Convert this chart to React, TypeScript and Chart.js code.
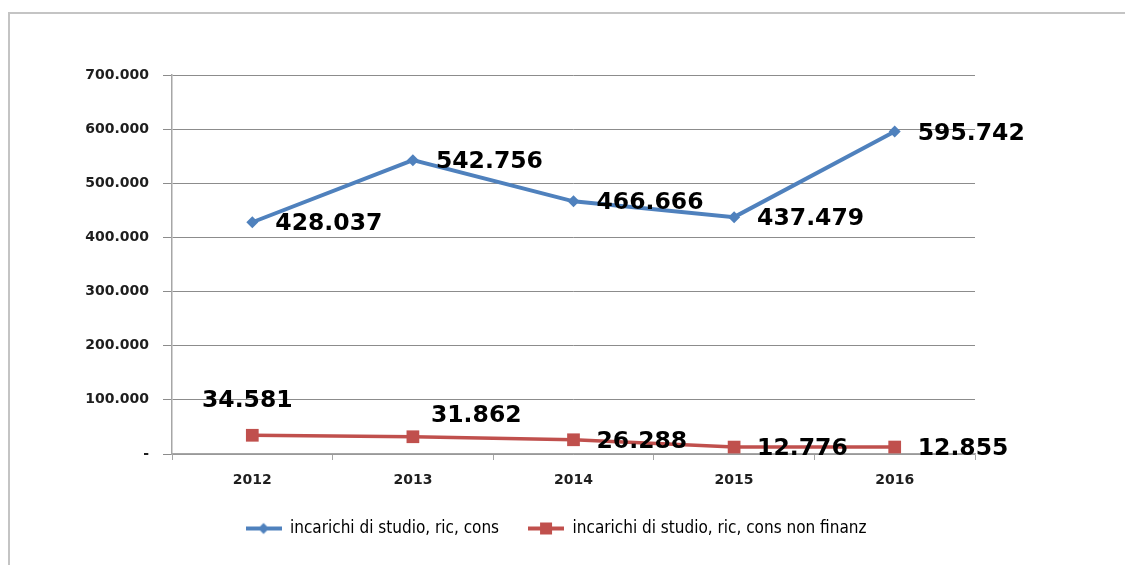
import React, { useEffect, useRef } from "react";
import { Chart, registerables } from "chart.js";

Chart.register(...registerables);

const years = ["2012", "2013", "2014", "2015", "2016"];
const seriesBlueName = "incarichi di studio, ric, cons";
const seriesRedName = "incarichi di studio, ric, cons non finanz";
const seriesBlue = [428037, 542756, 466666, 437479, 595742];
const seriesRed = [34581, 31862, 26288, 12776, 12855];
const yTicks = [0, 100000, 200000, 300000, 400000, 500000, 600000, 700000];

// label placement keywords per point
const bluePlacement = ["right", "right", "right", "right", "right"];
const redPlacement = ["above", "upRight", "right", "right", "right"];

const BLUE = "#4F81BD";
const RED = "#C0504D";

function fmt(n: number): string {
  if (n === 0) return "-";
  return String(Math.round(n)).replace(/\B(?=(\d{3})+(?!\d))/g, ".");
}

function makeLegendIcon(color: string, shape: "diamond" | "square"): HTMLCanvasElement {
  const c = document.createElement("canvas");
  c.width = 36;
  c.height = 14;
  const ctx = c.getContext("2d")!;
  ctx.strokeStyle = color;
  ctx.lineWidth = 4;
  ctx.beginPath();
  ctx.moveTo(0, 7);
  ctx.lineTo(36, 7);
  ctx.stroke();
  ctx.fillStyle = color;
  if (shape === "diamond") {
    ctx.beginPath();
    ctx.moveTo(18, 1.5);
    ctx.lineTo(23.5, 7);
    ctx.lineTo(18, 12.5);
    ctx.lineTo(12.5, 7);
    ctx.closePath();
    ctx.fill();
  } else {
    ctx.fillRect(12, 1, 12, 12);
  }
  return c;
}

const dataLabelPlugin = {
  id: "dataLabels",
  afterDatasetsDraw(chart: any) {
    const ctx = chart.ctx;
    ctx.save();
    ctx.font = "bold 23.5px 'DejaVu Sans', Verdana, sans-serif";
    ctx.fillStyle = "#000000";
    chart.data.datasets.forEach((ds: any, di: number) => {
      const meta = chart.getDatasetMeta(di);
      const placement: string[] = ds.labelPlacement || [];
      meta.data.forEach((pt: any, i: number) => {
        const text = fmt(ds.data[i]);
        const p = placement[i] || "right";
        ctx.textBaseline = "middle";
        if (p === "above") {
          ctx.textAlign = "center";
          ctx.fillText(text, pt.x - 5, pt.y - 34);
        } else if (p === "upRight") {
          ctx.textAlign = "left";
          ctx.fillText(text, pt.x + 18, pt.y - 21);
        } else {
          ctx.textAlign = "left";
          ctx.fillText(text, pt.x + 23, pt.y + 2);
        }
      });
    });
    ctx.restore();
  },
};

export default function App() {
  const ref = useRef<HTMLCanvasElement | null>(null);

  useEffect(() => {
    document.body.style.overflow = "hidden";
    if (!ref.current) return;
    const blueIcon = makeLegendIcon(BLUE, "diamond");
    const redIcon = makeLegendIcon(RED, "square");
    const chart = new Chart(ref.current, {
      type: "line",
      data: {
        labels: years,
        datasets: [
          {
            label: seriesBlueName,
            data: seriesBlue,
            borderColor: BLUE,
            backgroundColor: BLUE,
            borderWidth: 4,
            pointStyle: "rectRot",
            pointRadius: 6,
            pointBorderWidth: 0,
            tension: 0,
            labelPlacement: bluePlacement,
          } as any,
          {
            label: seriesRedName,
            data: seriesRed,
            borderColor: RED,
            backgroundColor: RED,
            borderWidth: 3.5,
            pointStyle: "rect",
            pointRadius: 9,
            pointBorderWidth: 0,
            tension: 0,
            labelPlacement: redPlacement,
          } as any,
        ],
      },
      options: {
        responsive: false,
        animation: false,
        layout: { padding: { left: 0, right: 31, top: 61, bottom: 18 } },
        scales: {
          x: {
            type: "category",
            offset: true,
            grid: {
              offset: true,
              drawOnChartArea: false,
              drawTicks: true,
              tickLength: 6,
              color: "#a6a6a6",
            },
            border: { color: "#a6a6a6", width: 1.5 },
            ticks: {
              padding: 12,
              color: "#1e1e1e",
              font: { family: "'DejaVu Sans', Verdana, sans-serif", size: 14, weight: "bold" },
              maxRotation: 0,
            },
            afterFit: (s: any) => {
              s.height = 37;
            },
          },
          y: {
            min: 0,
            max: 700000,
            afterBuildTicks: (s: any) => {
              s.ticks = yTicks.map((v) => ({ value: v }));
            },
            grid: {
              color: "#8c8c8c",
              tickLength: 9,
              drawTicks: true,
            },
            border: { color: "#a6a6a6", width: 1.5 },
            ticks: {
              padding: 14,
              color: "#1e1e1e",
              font: { family: "'DejaVu Sans', Verdana, sans-serif", size: 14, weight: "bold" },
              callback: (v: any) => fmt(Number(v)),
            },
            afterFit: (s: any) => {
              s.width = 162;
            },
          },
          yRightSpace: {
            type: "linear",
            position: "right",
            display: true,
            grid: { display: false, drawTicks: false },
            border: { display: false },
            ticks: { display: false },
            afterFit: (s: any) => {
              s.width = 127;
            },
          },
        },
        plugins: {
          title: { display: false },
          tooltip: { enabled: false },
          legend: {
            display: true,
            position: "bottom",
            labels: {
              usePointStyle: true,
              pointStyleWidth: 36,
              padding: 29,
              color: "#000000",
              font: { family: "'Liberation Sans Narrow', 'Arial Narrow', 'DejaVu Sans Condensed', sans-serif", size: 17 },
              generateLabels: (c: any) =>
                c.data.datasets.map((ds: any, i: number) => ({
                  text: ds.label,
                  fillStyle: ds.backgroundColor,
                  strokeStyle: ds.borderColor,
                  lineWidth: 0,
                  pointStyle: i === 0 ? blueIcon : redIcon,
                  hidden: false,
                  datasetIndex: i,
                  fontColor: "#000000",
                })),
            },
          },
        },
      },
      plugins: [dataLabelPlugin],
    });
    return () => chart.destroy();
  }, []);

  return (
    <div
      style={{
        marginTop: 4,
        width: 1123,
        height: 551,
        borderTop: "2px solid #c4c4c4",
        borderLeft: "2px solid #c4c4c4",
        background: "#ffffff",
      }}
    >
      <canvas ref={ref} width={1123} height={551} style={{ display: "block" }} />
    </div>
  );
}
